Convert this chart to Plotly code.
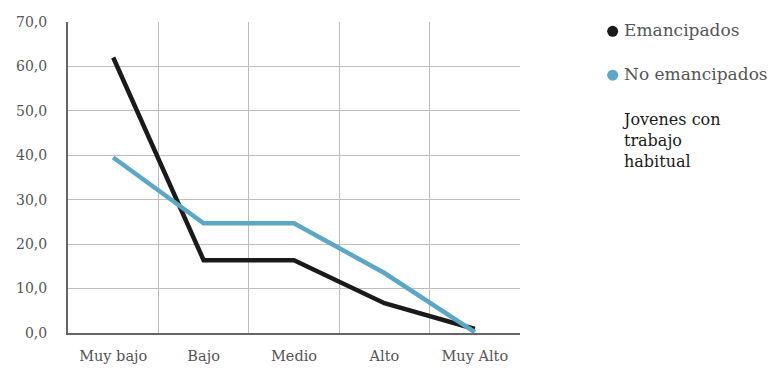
import plotly.graph_objects as go

categories = ["Muy bajo", "Bajo", "Medio", "Alto", "Muy Alto"]
emancipados = [62.0, 16.4, 16.4, 6.7, 0.9]
no_emancipados = [39.5, 24.7, 24.7, 13.5, 0.2]
y_ticks = [0, 10, 20, 30, 40, 50, 60, 70]
series_names = ["Emancipados", "No emancipados"]
series_colors = ["#1b1a1a", "#5ba7c6"]
note_text = "Jovenes con<br>trabajo<br>habitual"

xpos = [i + 0.5 for i in range(len(categories))]

fig = go.Figure()
for vals, name, col in zip([emancipados, no_emancipados], series_names, series_colors):
    fig.add_trace(go.Scatter(x=xpos, y=vals, mode="lines", name=name,
                             line=dict(color=col, width=4.5), showlegend=False))

# legend (manual, to match tight dot/text spacing)
leg_y = [0.970, 0.829]
for name, col, yy in zip(series_names, series_colors, leg_y):
    fig.add_shape(type="circle", xref="paper", yref="paper", xsizemode="pixel", ysizemode="pixel",
                  xanchor=1.205, yanchor=yy, x0=-5.5, x1=5.5, y0=-5.5, y1=5.5,
                  fillcolor=col, line=dict(width=0))
    fig.add_annotation(xref="paper", yref="paper", x=1.226, y=yy + 0.004, xanchor="left",
                       yanchor="middle", showarrow=False, text=name,
                       font=dict(family="DejaVu Serif", size=17, color="#555"))

fig.add_annotation(xref="paper", yref="paper", x=1.222, y=0.725, xanchor="left", yanchor="top",
                   align="left", showarrow=False, text=note_text,
                   font=dict(family="DejaVu Serif", size=16, color="#1a1a1a"))

fig.update_layout(
    width=779, height=368,
    margin=dict(l=68, r=259, t=22, b=35),
    paper_bgcolor="white", plot_bgcolor="white",
    separators=",.",
    showlegend=False,
    font=dict(family="DejaVu Serif, serif", size=14, color="#555"),
    xaxis=dict(range=[0, 5], tickmode="array", tickvals=xpos, ticktext=categories,
               automargin=False,
               showgrid=False, zeroline=False, showline=True, linecolor="#666", linewidth=2,
               ticks="", tickfont=dict(size=14.5, color="#555"), ticklabelstandoff=9,
               minor=dict(tickmode="array", tickvals=[0, 1, 2, 3, 4, 5], showgrid=True,
                          gridcolor="#bdbdbd", gridwidth=1, ticks="")),
    yaxis=dict(range=[0, 70], tickmode="array", tickvals=y_ticks, tickformat=".1f",
               automargin=False,
               showgrid=True, gridcolor="#bdbdbd", gridwidth=1, zeroline=False,
               showline=True, linecolor="#666", linewidth=2, ticks="",
               ticklabelstandoff=16, tickfont=dict(size=14, color="#555")),
)

fig.write_html("out.html", config={"displayModeBar": False},
               post_script="document.body.style.margin='0';document.body.style.overflow='hidden';")
